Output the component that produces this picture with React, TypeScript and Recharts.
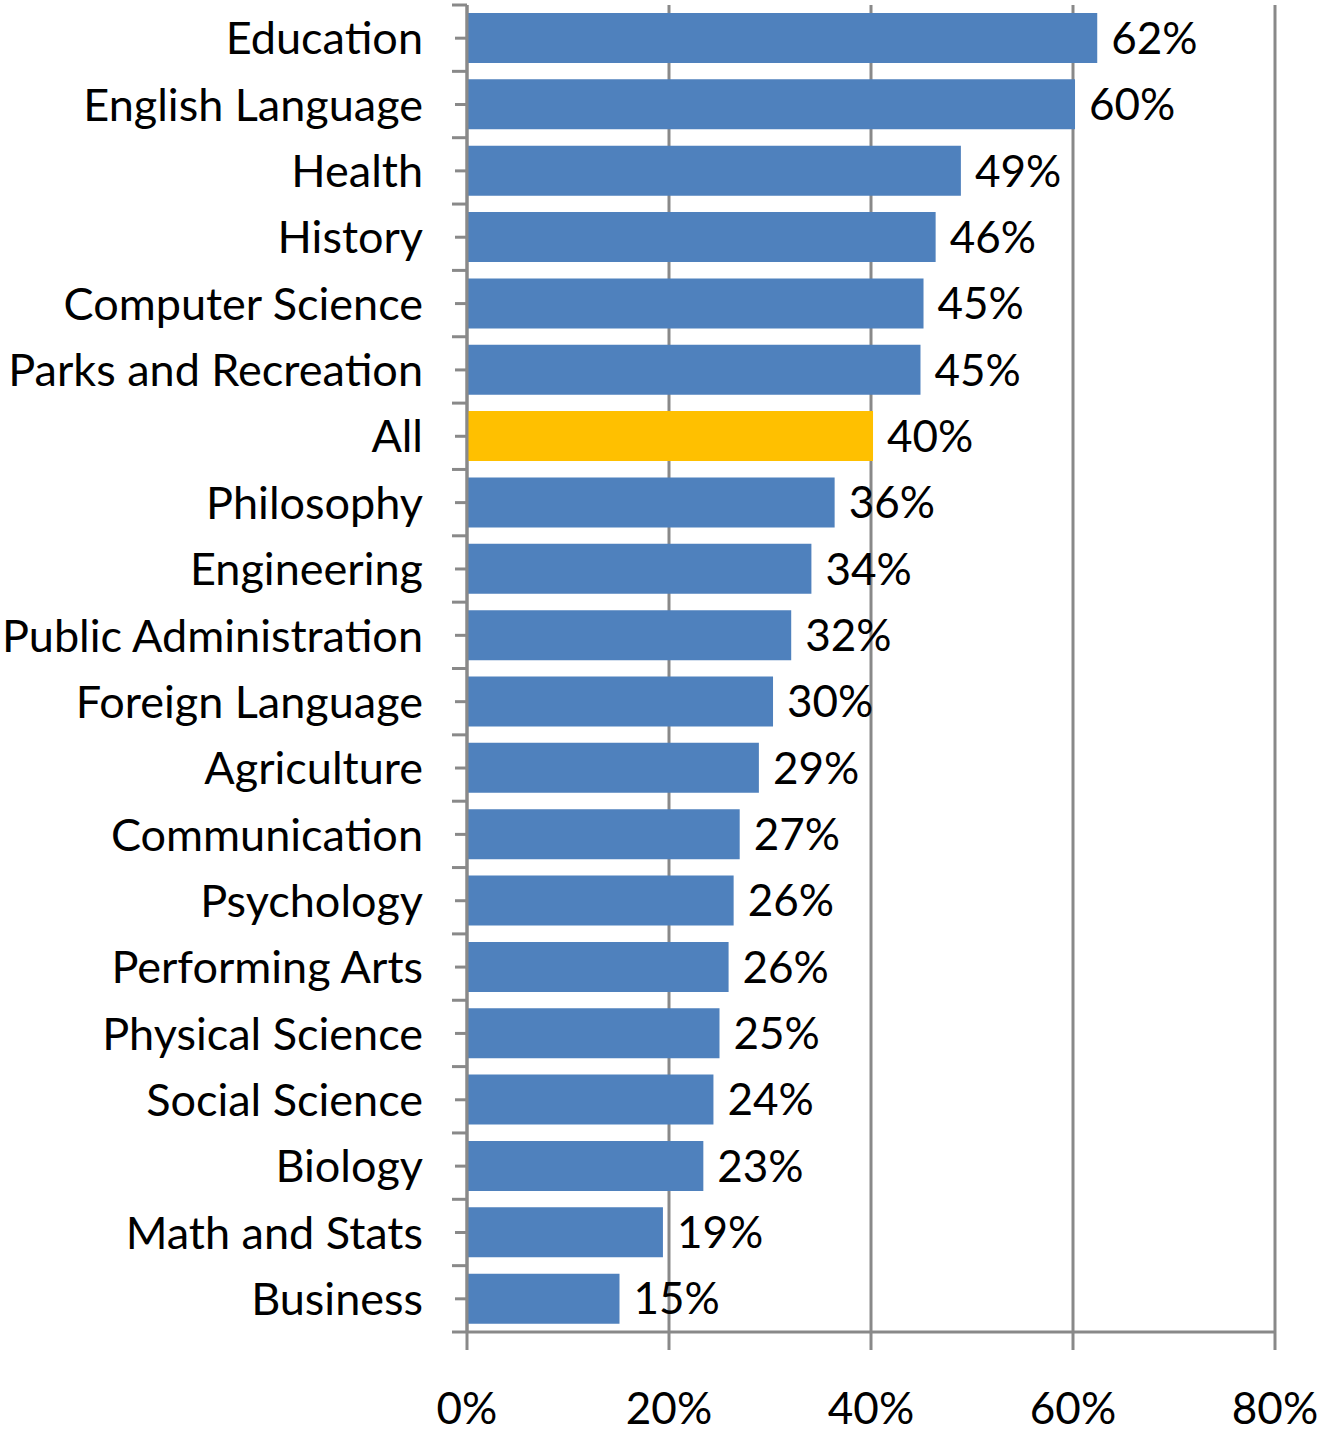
import React from "react";
import { BarChart, Bar, XAxis, YAxis, CartesianGrid, Cell, LabelList } from "recharts";

const categories = [
  "Education",
  "English Language",
  "Health",
  "History",
  "Computer Science",
  "Parks and Recreation",
  "All",
  "Philosophy",
  "Engineering",
  "Public Administration",
  "Foreign Language",
  "Agriculture",
  "Communication",
  "Psychology",
  "Performing Arts",
  "Physical Science",
  "Social Science",
  "Biology",
  "Math and Stats",
  "Business",
];

const values = [62.4, 60.2, 48.9, 46.4, 45.2, 44.9, 40.2, 36.4, 34.1, 32.1, 30.3, 28.9, 27.0, 26.4, 25.9, 25.0, 24.4, 23.4, 19.4, 15.1];

const xTicks = [0, 20, 40, 60, 80];
const highlightCategory = "All";

const data = categories.map((name, i) => ({ name, value: values[i] }));

const W = 1321;
const H = 1437;
const TOP = 5;
const BOTTOM_AXIS_H = 105;
const Y_AXIS_W = 467;
const RIGHT = 46;
const BAND = (H - BOTTOM_AXIS_H - TOP) / categories.length;

const FONT = "Lato, 'Open Sans', sans-serif";
const FS = 44;
const CAT_FS = 45;
const GRID = "#898989";
const SW = 3;
const BLUE = "#4F81BD";
const GOLD = "#FFC000";

const YTick = (props: any) => {
  const { x, y, payload, index } = props;
  const axisX = x + 12;
  return (
    <g>
      <line x1={axisX - 15} x2={axisX} y1={y - BAND / 2} y2={y - BAND / 2} stroke={GRID} strokeWidth={SW} />
      {index === categories.length - 1 ? (
        <line x1={axisX - 15} x2={axisX} y1={y + BAND / 2} y2={y + BAND / 2} stroke={GRID} strokeWidth={SW} />
      ) : null}
      <text x={x - 32} y={y} dy="0.36em" textAnchor="end" fontFamily={FONT} fontSize={CAT_FS} fill="#000">
        {payload.value}
      </text>
    </g>
  );
};

const XTick = (props: any) => {
  const { x, y, payload } = props;
  return (
    <text x={x} y={y + 58} dy="0.36em" textAnchor="middle" fontFamily={FONT} fontSize={FS} fill="#000">
      {`${payload.value}%`}
    </text>
  );
};

const ValueLabel = (props: any) => {
  const { x, y, width, height, value } = props;
  return (
    <text x={x + width + 14} y={y + height / 2} dy="0.36em" textAnchor="start" fontFamily={FONT} fontSize={FS} fill="#000">
      {`${Math.round(value)}%`}
    </text>
  );
};

export default function App() {
  return (
    <div style={{ position: "absolute", left: 0, top: 0, width: W, height: H, background: "#fff" }}>
      <BarChart
        width={W}
        height={H}
        data={data}
        layout="vertical"
        margin={{ top: TOP, right: RIGHT, bottom: 0, left: 0 }}
      >
        <CartesianGrid
          horizontal={false}
          vertical={{ stroke: GRID, strokeWidth: SW }}
          stroke={GRID}
          strokeWidth={SW}
        />
        <XAxis
          type="number"
          domain={[0, 80]}
          ticks={xTicks}
          height={BOTTOM_AXIS_H}
          axisLine={{ stroke: GRID, strokeWidth: SW }}
          tickLine={{ stroke: GRID, strokeWidth: SW }}
          tickSize={18}
          tickMargin={0}
          tick={<XTick />}
          interval={0}
        />
        <YAxis
          type="category"
          dataKey="name"
          width={Y_AXIS_W}
          axisLine={{ stroke: GRID, strokeWidth: SW }}
          tickLine={{ stroke: GRID, strokeWidth: SW }}
          tickSize={12}
          tickMargin={0}
          tick={<YTick />}
          interval={0}
        />
        <Bar dataKey="value" barSize={50} isAnimationActive={false}>
          {data.map((d) => (
            <Cell key={d.name} fill={d.name === highlightCategory ? GOLD : BLUE} />
          ))}
          <LabelList dataKey="value" content={<ValueLabel />} />
        </Bar>
      </BarChart>
    </div>
  );
}
